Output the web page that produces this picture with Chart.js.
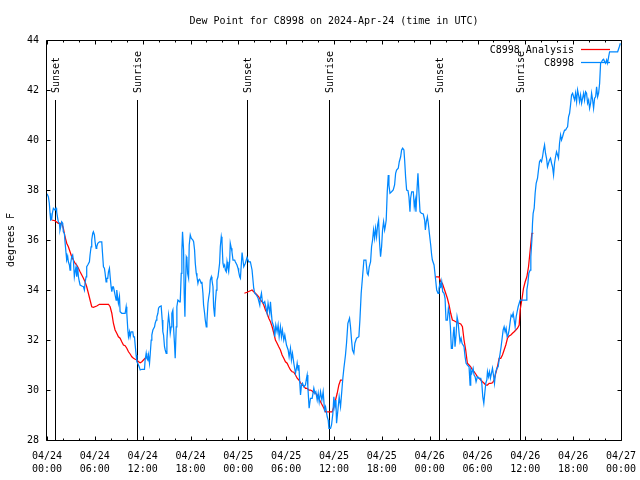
<!DOCTYPE html>
<html><head><meta charset="utf-8">
<script src="https://cdn.jsdelivr.net/npm/chart.js@4/dist/chart.umd.min.js"></script>
<style>html,body{margin:0;padding:0;background:#fff;}canvas{display:block;}</style>
</head><body>
<canvas id="c" width="640" height="480"></canvas>
<script>
const titleText = 'Dew Point for C8998 on 2024-Apr-24 (time in UTC)';
const yAxisTitle = 'degrees F';
const xTickLabels = [
  ['04/24','00:00'],['04/24','06:00'],['04/24','12:00'],['04/24','18:00'],
  ['04/25','00:00'],['04/25','06:00'],['04/25','12:00'],['04/25','18:00'],
  ['04/26','00:00'],['04/26','06:00'],['04/26','12:00'],['04/26','18:00'],
  ['04/27','00:00']
];
const sunHours = [1.04, 11.34, 25.13, 35.41, 49.23, 59.27];
const sunLabels = ['Sunset','Sunrise','Sunset','Sunrise','Sunset','Sunrise'];
const analysisLabel = 'C8998 Analysis';
const stationLabel = 'C8998';

// hours since 04/24 00:00 UTC
const analysisHours = [
0.59,1.00,1.42,1.84,2.05,2.26,2.47,2.68,2.89,3.10,3.31,3.52,3.73,3.94,4.15,4.36,4.57,4.77,4.98,5.19,5.40,5.61,5.82,6.24,6.58,7.08,7.71,7.92,8.13,8.33,8.54,8.75,8.96,9.17,9.38,9.59,9.80,10.01,10.22,10.43,10.64,10.85,11.06,11.27,11.48,11.69,11.90,12.10,12.31,12.52,12.73,
18.0,
24.76,25.09,25.51,25.72,25.93,26.14,26.35,26.56,26.77,26.98,27.19,27.40,27.61,27.82,28.03,28.24,28.45,28.65,28.86,29.07,29.28,29.49,29.70,29.91,30.12,30.33,30.54,30.75,30.96,31.17,31.38,31.59,31.80,32.01,32.21,32.42,32.63,32.84,33.05,33.26,33.47,33.68,33.89,34.10,34.31,34.52,34.73,34.94,35.36,35.78,35.98,36.19,36.40,36.61,36.82,37.03,
43.0,
48.75,49.17,49.38,49.59,49.80,50.01,50.22,50.43,50.64,50.85,51.06,51.27,51.48,51.69,51.90,52.11,52.31,52.52,52.73,52.94,53.15,53.36,53.57,53.78,53.99,54.20,54.41,54.62,54.83,55.04,55.25,55.46,55.67,55.88,56.08,56.29,56.50,56.71,56.92,57.13,57.34,57.55,57.76,57.97,58.18,58.39,58.60,58.81,59.02,59.23,59.35,59.56,59.77,59.98,60.19,60.40,60.61,60.82,61.00
];
const analysisDew = [
36.80,36.77,36.67,36.67,36.47,36.13,35.87,35.73,35.53,35.33,35.20,35.07,35.00,34.87,34.73,34.60,34.47,34.33,34.13,33.87,33.60,33.33,33.31,33.36,33.43,33.43,33.43,33.33,33.07,32.67,32.40,32.27,32.13,32.07,31.93,31.80,31.77,31.67,31.53,31.44,31.33,31.27,31.23,31.20,31.13,31.09,31.13,31.20,31.27,31.31,31.33,
null,
33.87,33.91,33.97,34.00,33.93,33.87,33.80,33.73,33.60,33.53,33.40,33.20,33.07,32.87,32.73,32.53,32.27,32.00,31.87,31.73,31.60,31.40,31.27,31.13,31.07,30.93,30.80,30.73,30.71,30.60,30.47,30.40,30.29,30.20,30.16,30.07,30.07,30.00,30.00,29.96,29.89,29.87,29.80,29.67,29.53,29.40,29.27,29.13,29.13,29.13,29.33,29.60,29.87,30.20,30.40,30.40,
null,
34.53,34.53,34.33,34.27,34.07,33.87,33.67,33.40,33.07,32.80,32.77,32.73,32.69,32.67,32.64,32.53,32.00,31.60,31.07,31.00,30.93,30.80,30.73,30.64,30.53,30.47,30.40,30.33,30.27,30.20,30.20,30.27,30.27,30.29,30.40,30.67,30.93,31.27,31.27,31.40,31.60,31.80,32.07,32.16,32.20,32.27,32.33,32.40,32.47,32.60,33.20,33.60,34.07,34.33,34.53,34.93,35.60,36.27,36.27
];

const stationHours = [
0.00,0.17,0.29,0.38,0.46,0.59,0.67,0.80,1.00,1.13,1.21,1.34,1.42,1.55,1.63,1.72,1.84,1.97,2.05,2.18,2.26,2.39,2.47,2.60,2.68,2.81,2.89,2.97,3.10,3.22,3.31,3.43,3.56,3.64,3.73,3.85,3.94,4.06,4.15,4.36,4.57,4.69,4.77,4.90,4.98,5.11,5.32,5.40,5.53,5.61,5.74,5.82,5.95,6.03,6.16,6.24,6.37,6.58,6.87,6.95,7.08,7.20,7.29,7.41,7.50,7.62,7.71,7.83,7.92,8.04,8.13,8.25,8.33,8.46,8.54,8.67,8.75,8.88,8.96,9.09,9.17,9.38,9.80,9.93,10.01,10.14,10.22,10.35,10.43,10.55,10.76,10.85,10.97,11.06,11.18,11.27,11.39,11.56,11.69,11.90,12.23,12.31,12.44,12.52,12.65,12.73,12.86,12.94,13.07,13.15,13.28,13.49,13.57,13.70,13.78,13.91,13.99,14.11,14.32,14.45,14.53,14.62,14.74,14.83,14.95,15.04,15.16,15.25,15.37,15.46,15.58,15.66,15.79,15.87,16.00,16.08,16.21,16.29,16.42,16.63,16.71,16.84,16.92,17.00,17.13,17.21,17.30,17.38,17.47,17.55,17.63,17.76,17.84,17.97,18.09,18.30,18.39,18.51,18.60,18.72,18.81,18.93,19.02,19.14,19.35,19.43,19.56,19.64,19.77,19.85,19.98,20.06,20.19,20.27,20.40,20.48,20.61,20.69,20.82,20.90,21.03,21.11,21.24,21.32,21.45,21.53,21.65,21.74,21.86,21.95,22.07,22.16,22.28,22.37,22.49,22.58,22.70,22.79,22.91,22.99,23.12,23.20,23.33,23.54,23.62,23.83,23.96,24.04,24.17,
24.26,24.47,24.68,24.88,25.09,25.30,25.51,25.72,25.93,26.06,26.27,26.48,26.69,26.77,26.90,27.02,27.19,27.31,27.44,27.61,27.73,27.94,28.03,28.11,28.24,28.45,28.57,28.70,28.86,28.99,29.12,29.28,29.41,29.53,29.70,29.83,30.04,30.25,30.37,30.54,30.66,30.79,30.96,31.17,31.29,31.38,31.50,31.59,31.71,31.80,31.92,32.05,32.21,32.42,32.55,32.63,32.72,32.88,33.05,33.26,33.47,33.60,33.72,33.89,34.02,34.14,34.31,34.48,34.64,34.81,34.94,35.15,35.27,35.36,35.57,35.69,35.86,35.98,36.11,36.24,36.32,36.49,36.65,36.82,36.99,
37.11,37.24,37.44,37.57,37.74,37.95,38.07,38.20,38.32,38.49,38.62,38.83,39.12,39.25,39.41,39.58,39.75,40.00,40.17,40.29,40.42,40.59,40.71,40.84,40.96,41.09,41.21,41.34,41.47,41.59,41.72,41.84,41.97,42.09,42.22,42.35,42.43,42.55,42.68,42.81,42.89,43.02,43.22,43.43,43.60,43.73,43.85,44.06,44.19,44.36,44.48,44.61,44.77,44.86,44.98,45.11,45.28,45.40,45.53,45.61,45.74,45.95,46.07,46.20,46.28,46.41,46.53,46.66,46.79,46.95,47.20,47.37,47.46,47.58,47.71,47.83,47.96,48.13,48.25,
48.34,48.55,48.75,48.88,49.05,49.17,49.30,49.38,49.51,49.63,49.80,49.93,50.05,50.22,50.35,50.47,50.60,50.72,50.85,50.97,51.06,51.18,51.31,51.44,51.56,51.69,51.81,51.94,52.06,52.19,52.31,52.44,52.57,52.73,52.94,53.07,53.15,53.28,53.45,53.57,53.70,53.82,53.99,54.20,54.41,54.54,54.66,54.79,54.91,55.04,55.17,55.25,55.37,55.50,55.62,55.75,55.88,56.00,56.13,56.25,56.42,56.59,56.71,56.84,56.96,57.09,57.22,57.34,57.47,57.59,57.72,57.84,57.97,58.10,58.22,58.35,58.47,58.60,58.72,58.85,58.97,59.10,59.23,59.35,59.56,60.11,60.19,60.32,60.44,
60.61,60.69,60.82,60.90,60.98,61.11,61.23,61.36,61.53,61.65,61.78,61.90,62.03,62.16,62.28,62.41,62.53,62.66,62.78,62.91,63.03,63.16,63.29,63.41,63.54,63.66,63.79,63.91,64.04,64.16,64.29,64.42,64.54,64.67,64.79,64.92,65.05,65.17,65.30,65.42,65.55,65.67,65.80,65.93,66.05,66.18,66.30,66.43,66.55,66.68,66.80,66.93,67.06,67.18,67.31,67.43,67.56,67.68,67.81,67.94,68.06,68.19,68.31,68.44,68.56,68.69,68.82,68.94,69.07,69.19,69.32,69.44,69.57,69.70,69.82,69.95,70.07,70.20,70.32,70.45,70.57,70.74,71.58,71.79,71.92
];
const stationDew = [
37.85,37.73,37.47,37.07,36.80,36.83,37.07,37.27,37.20,37.27,37.13,36.87,36.73,36.67,36.40,36.53,36.73,36.67,36.33,36.27,35.93,35.47,35.20,35.33,35.13,35.00,34.80,35.07,35.33,35.40,35.20,34.53,34.80,34.93,34.53,34.93,34.53,34.33,34.20,34.16,34.13,34.00,34.27,34.53,34.93,35.00,35.13,35.40,35.73,36.00,36.27,36.33,36.20,35.93,35.67,35.73,35.87,35.93,35.93,35.53,34.93,34.87,34.67,34.33,34.47,34.47,34.73,34.87,34.53,34.13,33.93,34.13,34.13,33.93,33.80,33.60,34.00,33.67,33.47,33.73,33.13,33.07,33.07,33.33,33.07,32.40,32.13,32.33,32.13,32.33,32.33,32.13,32.13,31.80,31.40,31.13,31.07,30.93,30.80,30.83,30.83,31.20,31.47,31.27,31.20,31.40,31.07,31.40,32.00,32.20,32.40,32.53,32.67,32.80,32.93,33.07,33.27,33.33,33.36,32.80,32.33,32.20,31.73,31.60,31.47,32.00,32.67,33.00,32.67,32.27,32.53,33.07,33.20,32.53,31.80,31.27,32.53,33.33,33.60,33.53,33.53,34.67,35.60,36.33,35.60,33.87,32.93,34.27,35.33,35.27,34.67,34.47,35.80,36.20,36.07,36.00,35.93,35.60,35.07,34.67,34.53,34.27,34.40,34.43,34.27,34.33,33.87,33.40,33.07,32.80,32.53,32.73,33.47,33.67,33.93,34.40,34.53,34.40,34.13,33.33,32.93,33.47,34.00,34.40,34.53,34.53,35.07,35.73,36.13,35.93,35.07,34.93,35.00,34.80,34.73,35.13,34.87,34.73,35.13,35.87,35.67,35.53,35.20,35.20,35.13,35.00,34.87,34.73,34.53,
34.47,35.50,34.93,35.07,35.30,35.13,35.13,34.80,34.07,33.87,33.80,33.67,33.40,33.67,33.87,33.53,33.47,33.53,33.33,33.07,33.47,33.07,33.53,33.20,32.73,32.53,32.13,32.60,32.33,32.60,32.13,32.53,32.13,32.40,32.00,32.20,31.80,31.60,31.33,31.67,31.20,31.47,31.07,30.67,30.87,31.07,30.80,31.00,30.27,29.80,30.20,30.27,30.13,30.20,30.47,30.60,30.13,29.27,29.67,29.67,30.07,29.87,29.93,29.60,29.87,29.53,29.93,29.60,29.93,29.20,29.33,28.93,28.80,28.47,28.47,28.60,29.07,29.73,29.33,29.60,28.67,29.20,29.73,29.33,30.00,
30.47,30.87,31.40,31.87,32.67,32.87,32.53,32.00,31.60,31.47,31.87,32.07,32.13,32.80,33.87,34.53,35.20,35.20,34.67,34.60,34.93,35.13,35.73,36.00,36.40,36.07,36.47,36.13,36.60,36.80,35.87,35.33,35.73,36.40,36.73,36.40,36.53,36.80,37.93,38.60,38.20,37.87,37.93,38.00,38.20,38.67,38.80,38.87,39.13,39.33,39.60,39.67,39.60,39.20,38.53,38.00,37.97,37.73,37.13,37.67,37.93,37.93,37.33,37.60,37.13,38.00,38.67,37.87,37.13,37.07,37.04,36.80,36.40,36.73,36.93,36.67,36.27,35.80,35.40,
35.20,35.00,34.40,34.00,33.87,34.07,34.27,34.07,34.33,33.93,33.87,33.67,32.80,32.80,33.27,33.07,32.53,31.67,31.67,32.27,32.53,31.73,32.20,32.93,32.73,32.27,31.93,32.07,31.87,31.80,31.73,31.33,31.07,31.00,30.93,30.20,30.80,30.67,30.87,30.60,30.53,30.33,30.53,30.47,30.47,30.27,29.73,29.47,29.87,30.27,30.40,30.73,30.53,30.73,30.47,30.67,30.87,30.60,30.27,30.67,30.87,30.93,31.20,31.47,31.73,32.07,32.40,32.53,32.33,32.47,32.13,32.20,32.40,32.73,33.00,32.93,33.07,32.80,32.53,32.93,33.13,33.33,33.47,33.60,33.60,33.60,34.00,34.27,34.67,
34.80,35.33,36.00,36.67,37.07,37.27,37.87,38.27,38.47,38.80,39.13,39.20,39.13,39.33,39.60,39.80,39.47,39.27,38.93,39.07,39.20,39.27,39.07,38.93,38.60,39.07,39.33,39.53,39.40,39.27,39.87,40.20,40.00,40.13,40.27,40.40,40.40,40.47,40.53,40.93,41.07,41.40,41.80,41.87,41.73,41.60,41.87,41.53,42.00,41.80,41.53,41.80,41.47,41.67,41.87,41.60,41.93,41.87,41.47,41.60,41.27,41.47,41.87,41.60,41.27,41.67,41.73,42.13,41.73,41.87,42.27,43.07,43.13,43.20,43.23,43.13,43.07,43.20,43.07,43.33,43.53,43.53,43.53,43.73,43.87
];

const xMin = 0, xMax = 72, xMajorStep = 6, xMinorStep = 2;
const yMin = 28, yMax = 44, yStep = 2;

const FONT = "'DejaVu Sans Mono', 'Liberation Mono', monospace";
const RED = '#ff0000';
const BLUE = 'rgb(0,136,255)';

const toPts = (xs, ys) => xs.map((x, i) => ({x: x, y: ys[i]}));

const sunPlugin = {
  id: 'sun',
  beforeDatasetsDraw(chart) {
    const ctx = chart.ctx, a = chart.chartArea, xs = chart.scales.x;
    ctx.save();
    ctx.strokeStyle = '#000'; ctx.lineWidth = 1;
    ctx.fillStyle = '#000';
    ctx.font = '10px ' + FONT;
    sunHours.forEach((h, i) => {
      const px = Math.round(xs.getPixelForValue(h)) + 0.5;
      ctx.beginPath();
      ctx.moveTo(px, a.bottom);
      ctx.lineTo(px, a.top + 60);
      ctx.stroke();
      ctx.save();
      ctx.translate(px, a.top + 53);
      ctx.rotate(-Math.PI / 2);
      ctx.textAlign = 'left';
      ctx.textBaseline = 'middle';
      ctx.fillText(sunLabels[i], 0, 1);
      ctx.restore();
    });
    ctx.restore();
  }
};

const framePlugin = {
  id: 'frame',
  afterDatasetsDraw(chart) {
    const ctx = chart.ctx, a = chart.chartArea;
    const xs = chart.scales.x, ys = chart.scales.y;
    const L = Math.round(a.left) - 0.5, R = Math.round(a.right) + 0.5;
    const T = Math.round(a.top) + 0.5, B = Math.round(a.bottom) + 0.5;
    ctx.save();
    ctx.strokeStyle = '#000'; ctx.lineWidth = 1;
    ctx.beginPath();
    ctx.rect(L, T, R - L, B - T);
    for (let h = xMin; h <= xMax; h += xMinorStep) {
      const px = Math.round(xs.getPixelForValue(h)) + 0.5;
      const len = (h % xMajorStep === 0) ? 4 : 2;
      ctx.moveTo(px, B); ctx.lineTo(px, B - len);
      ctx.moveTo(px, T); ctx.lineTo(px, T + len);
    }
    for (let v = yMin; v <= yMax; v += yStep) {
      const py = Math.round(ys.getPixelForValue(v)) + 0.5;
      ctx.moveTo(L, py); ctx.lineTo(L + 4, py);
      ctx.moveTo(R, py); ctx.lineTo(R - 4, py);
    }
    ctx.stroke();
    ctx.font = '10px ' + FONT;
    ctx.fillStyle = '#000';
    ctx.textAlign = 'right';
    ctx.textBaseline = 'middle';
    const items = [[analysisLabel, RED], [stationLabel, BLUE]];
    items.forEach((it, i) => {
      const y = Math.round(a.top + 9 + i * 13) + 0.5;
      ctx.fillText(it[0], a.right - 47, y + 0.5);
      ctx.strokeStyle = it[1];
      ctx.lineWidth = 1.25;
      ctx.beginPath();
      ctx.moveTo(a.right - 40, y); ctx.lineTo(a.right - 11, y);
      ctx.stroke();
    });
    ctx.restore();
  }
};

Chart.defaults.color = '#000';
Chart.defaults.font.family = FONT;
Chart.defaults.font.size = 10;

new Chart(document.getElementById('c'), {
  type: 'line',
  data: {
    datasets: [
      {label: analysisLabel, data: toPts(analysisHours, analysisDew), borderColor: RED,
       borderWidth: 1.25, pointRadius: 0, tension: 0, spanGaps: false, order: 1},
      {label: stationLabel, data: toPts(stationHours, stationDew), borderColor: BLUE,
       borderWidth: 1.25, pointRadius: 0, tension: 0, spanGaps: false, order: 0}
    ]
  },
  options: {
    responsive: false,
    animation: false,
    events: [],
    layout: {padding: {left: 0, right: 19, top: 0, bottom: 0}},
    plugins: {
      legend: {display: false},
      tooltip: {enabled: false},
      title: {display: true, text: titleText, color: '#000', fullSize: false,
              font: {family: FONT, size: 10, weight: 'normal', lineHeight: 1.2},
              padding: {top: 15, bottom: 13}}
    },
    scales: {
      x: {
        type: 'linear', min: xMin, max: xMax,
        grid: {display: false, drawTicks: false},
        border: {display: false},
        afterFit(s) { s.height = 40; s.paddingLeft = 0; s.paddingRight = 0; },
        afterBuildTicks(s) {
          s.ticks = xTickLabels.map((_, i) => ({value: xMin + i * xMajorStep}));
        },
        ticks: {
          autoSkip: false, maxRotation: 0, minRotation: 0, padding: 10,
          font: {family: FONT, size: 10, lineHeight: 1.3},
          callback: (v, i) => xTickLabels[i]
        }
      },
      y: {
        min: yMin, max: yMax,
        grid: {display: false, drawTicks: false},
        border: {display: false},
        afterFit(s) { s.width = 47; s.paddingTop = 0; s.paddingBottom = 0; },
        ticks: {stepSize: yStep, padding: 8, font: {family: FONT, size: 10}},
        title: {display: true, text: yAxisTitle, color: '#000',
                font: {family: FONT, size: 10, lineHeight: 1.2},
                padding: {top: 5, bottom: 0}}
      }
    }
  },
  plugins: [sunPlugin, framePlugin]
});
</script>
</body></html>
